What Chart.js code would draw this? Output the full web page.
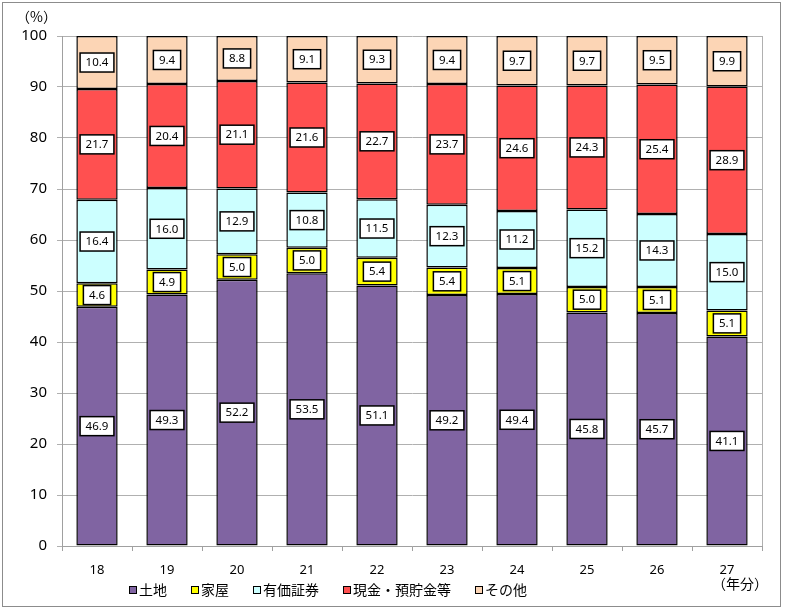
<!DOCTYPE html>
<html>
<head>
<meta charset="utf-8">
<script src="https://cdn.jsdelivr.net/npm/chart.js@4"></script>
<style>
  html, body { margin: 0; padding: 0; background: #fff; }
  #wrap { width: 785px; height: 610px; }
</style>
</head>
<body>
<div id="wrap"><canvas id="chart" width="785" height="610"></canvas></div>
<script>
'use strict';

// Categories (年分)
const YEARS = ["18", "19", "20", "21", "22", "23", "24", "25", "26", "27"];

// Series values (%)
const LAND = [46.9, 49.3, 52.2, 53.5, 51.1, 49.2, 49.4, 45.8, 45.7, 41.1];
const HOUSE = [4.6, 4.9, 5.0, 5.0, 5.4, 5.4, 5.1, 5.0, 5.1, 5.1];
const SECURITIES = [16.4, 16.0, 12.9, 10.8, 11.5, 12.3, 11.2, 15.2, 14.3, 15.0];
const CASH = [21.7, 20.4, 21.1, 21.6, 22.7, 23.7, 24.6, 24.3, 25.4, 28.9];
const OTHER = [10.4, 9.4, 8.8, 9.1, 9.3, 9.4, 9.7, 9.7, 9.5, 9.9];

const SERIES_NAMES = ["土地", "家屋", "有価証券", "現金・預貯金等", "その他"];
const SERIES_COLORS = ["#8064a2", "#ffff00", "#ccffff", "#ff5050", "#fcd5b5"];

const NUM_FONT = "'Noto Sans', sans-serif";
const JP_FONT = "'Noto Sans CJK JP', sans-serif";

// Value boxes in the middle of every segment
const valueBoxes = {
    id: 'valueBoxes',
    afterDatasetsDraw(chart) {
        const ctx = chart.ctx;
        ctx.save();
        ctx.font = "11.5px " + NUM_FONT;
        ctx.textAlign = 'center';
        ctx.textBaseline = 'middle';
        chart.data.datasets.forEach((ds, i) => {
            const meta = chart.getDatasetMeta(i);
            meta.data.forEach((bar, j) => {
                const txt = ds.data[j].toFixed(1);
                const cx = bar.x;
                const cy = (bar.y + bar.base) / 2;
                const w = ctx.measureText(txt).width + 11;
                const h = 19;
                ctx.fillStyle = '#fff';
                ctx.fillRect(cx - w / 2, cy - h / 2, w, h);
                ctx.lineWidth = 1.5;
                ctx.strokeStyle = '#000';
                ctx.strokeRect(cx - w / 2, cy - h / 2, w, h);
                ctx.fillStyle = '#000';
                ctx.fillText(txt, cx, cy + 0.5);
            });
        });
        ctx.restore();
    }
};

// Frame, units and legend
const decorations = {
    id: 'decorations',
    afterDraw(chart) {
        const ctx = chart.ctx;
        const area = chart.chartArea;
        ctx.save();

        // right edge of plot area
        ctx.strokeStyle = '#b0b0b0';
        ctx.lineWidth = 1;
        ctx.beginPath();
        ctx.moveTo(Math.round(area.right) + 0.5, area.top);
        ctx.lineTo(Math.round(area.right) + 0.5, area.bottom);
        ctx.stroke();

        // outer frame
        ctx.strokeStyle = '#8c8c8c';
        ctx.strokeRect(2.5, 2.5, 778, 604);

        // units
        ctx.fillStyle = '#000';
        ctx.font = "14px " + JP_FONT;
        ctx.textBaseline = 'middle';
        ctx.textAlign = 'left';
        ctx.fillText("（%）", 16, 17);
        ctx.fillText("（年分）", 712, 584);

        // legend
        ctx.font = "14px " + JP_FONT;
        let x = 129;
        const y = 590;
        SERIES_NAMES.forEach((name, i) => {
            ctx.fillStyle = SERIES_COLORS[i];
            ctx.fillRect(x, y - 4, 8, 8);
            ctx.strokeStyle = '#000';
            ctx.lineWidth = 1;
            ctx.strokeRect(x + 0.5, y - 3.5, 7, 7);
            ctx.fillStyle = '#000';
            ctx.fillText(name, x + 10, y);
            x += 10 + ctx.measureText(name).width + 24;
        });

        ctx.restore();
    }
};

const seriesData = [LAND, HOUSE, SECURITIES, CASH, OTHER];
const datasets = [];
for (let i = 0; i < seriesData.length; i++) {
    datasets.push({
        label: SERIES_NAMES[i],
        data: seriesData[i],
        backgroundColor: SERIES_COLORS[i],
        borderColor: '#000',
        borderWidth: 1.5,
        borderSkipped: false,
        barPercentage: 0.59,
        categoryPercentage: 1.0
    });
}

new Chart(document.getElementById('chart'), {
    type: 'bar',
    data: { labels: YEARS, datasets: datasets },
    plugins: [valueBoxes, decorations],
    options: {
        responsive: false,
        animation: false,
        layout: { padding: { top: 36, right: 23, left: 0, bottom: 0 } },
        plugins: {
            legend: { display: false },
            tooltip: { enabled: false }
        },
        scales: {
            x: {
                stacked: true,
                grid: {
                    drawOnChartArea: false,
                    drawTicks: true,
                    tickLength: 5,
                    color: '#a0a0a0'
                },
                border: { color: '#a0a0a0' },
                ticks: {
                    color: '#000',
                    font: { size: 13, family: NUM_FONT },
                    padding: 11
                },
                afterFit(scale) { scale.height = 64; }
            },
            y: {
                stacked: true,
                min: 0,
                max: 100,
                grid: {
                    color: '#b0b0b0',
                    tickLength: 5
                },
                border: { color: '#a0a0a0' },
                ticks: {
                    stepSize: 10,
                    color: '#000',
                    font: { size: 15, family: NUM_FONT },
                    padding: 10
                },
                afterFit(scale) { scale.width = 62; }
            }
        }
    }
});
</script>
</body>
</html>
